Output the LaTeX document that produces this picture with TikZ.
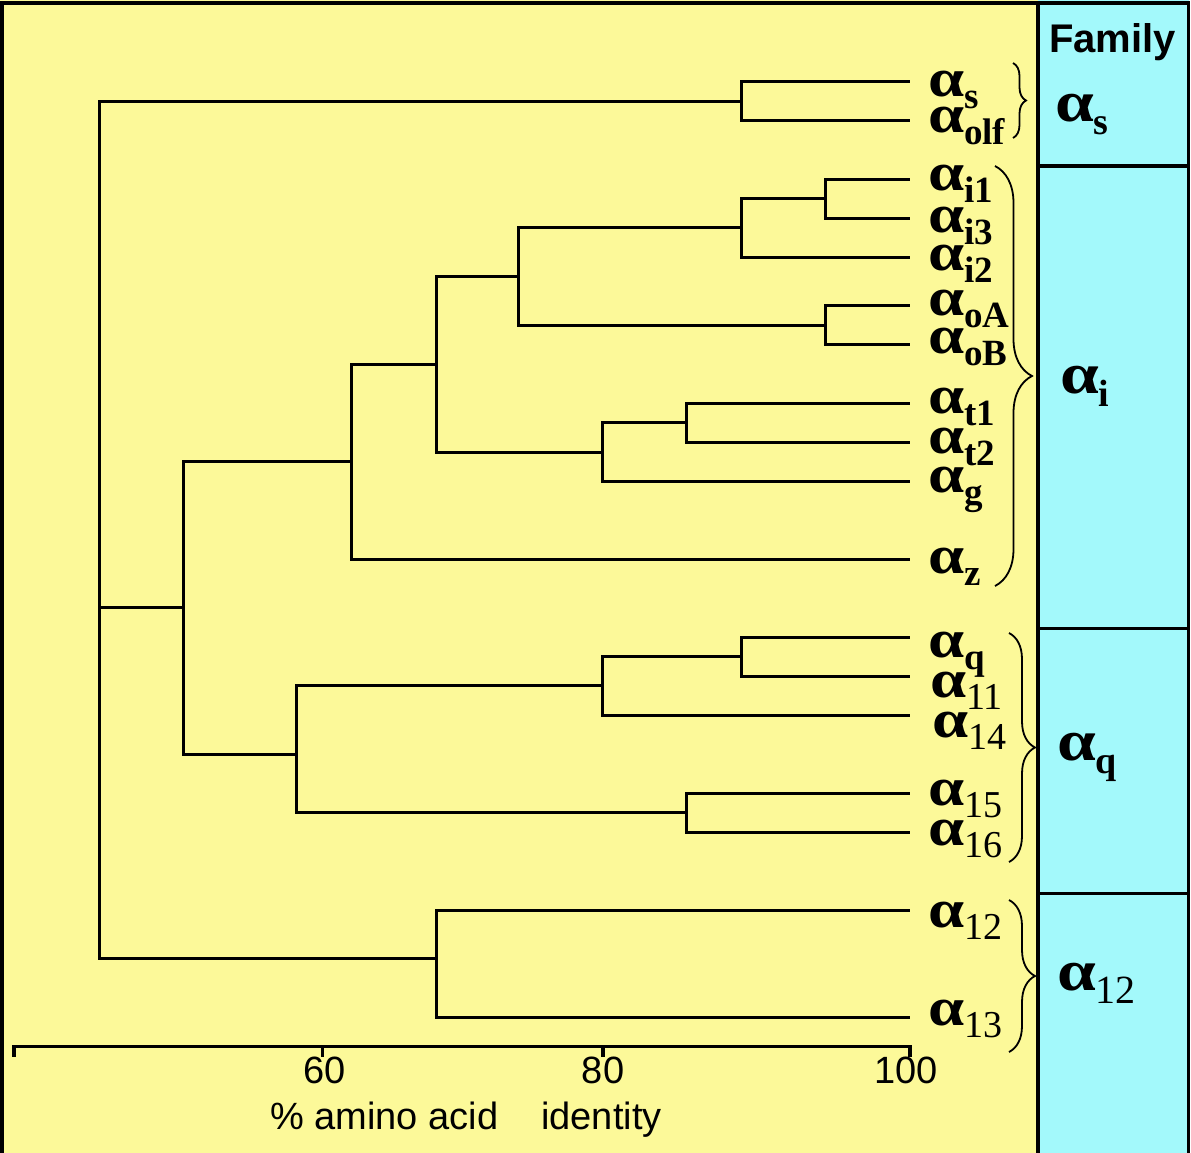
\documentclass[tikz,border=0pt]{standalone}
\usepackage{fontspec}
\setmainfont{Liberation Serif}
\setsansfont{Liberation Sans}
\usetikzlibrary{decorations.pathreplacing}
\definecolor{ybg}{RGB}{252,249,153}
\definecolor{cbg}{RGB}{163,249,251}
\newcommand\galph[1]{\scalebox{1.2}[1]{\fontsize{#1}{#1}\selectfont\bfseries α}}
\newcommand\leafb[1]{\galph{54}\raisebox{-12pt}{\fontsize{37}{37}\selectfont\bfseries #1}}
\newcommand\leafr[1]{\galph{54}\raisebox{-12pt}{\fontsize{38}{38}\selectfont #1}}
\newcommand\famb[1]{\galph{58}\raisebox{-13pt}{\fontsize{38}{38}\selectfont\bfseries #1}}
\newcommand\famr[1]{\galph{58}\raisebox{-13pt}{\fontsize{40}{40}\selectfont #1}}
\begin{document}
\begin{tikzpicture}[x=1pt,y=-1pt,
  tree/.style={line width=3pt,line join=miter},
  frame/.style={line width=4pt},
  lab/.style={anchor=base west,inner sep=0pt,outer sep=0pt},
  axlab/.style={anchor=base,inner sep=0pt,font=\sffamily\fontsize{38}{38}\selectfont},
  brc/.style={decorate,decoration={brace,amplitude=#1},line width=1.8pt}]
\useasboundingbox (0,0) rectangle (1191,1153);
\fill[white] (0,0) rectangle (1191,1153);
\fill[ybg] (0,0) rectangle (1038,1153);
\fill[cbg] (1038,0) rectangle (1189,1153);
% frame
\draw[frame] (2,1153) -- (2,2.7) -- (1189,2.7);
\draw[line width=3pt] (1188.5,1) -- (1188.5,1153);
\draw[frame] (1038,1) -- (1038,1153);
\draw[line width=3.5pt] (1038,166) -- (1189,166);
\draw[line width=3.5pt] (1038,628.5) -- (1189,628.5);
\draw[line width=3.5pt] (1038,893.3) -- (1189,893.3);
% leaves
\coordinate (s) at (910,82);
\coordinate (olf) at (910,120.5);
\coordinate (i1) at (910,179);
\coordinate (i3) at (910,218);
\coordinate (i2) at (910,257);
\coordinate (oA) at (910,305.5);
\coordinate (oB) at (910,344.5);
\coordinate (t1) at (910,403);
\coordinate (t2) at (910,442);
\coordinate (g) at (910,481.5);
\coordinate (z) at (910,559.3);
\coordinate (q) at (910,637.5);
\coordinate (l11) at (910,676);
\coordinate (l14) at (910,715);
\coordinate (l15) at (910,793.3);
\coordinate (l16) at (910,832.3);
\coordinate (l12) at (910,910);
\coordinate (l13) at (910,1017.7);
% internal nodes
\coordinate (A) at (741,101.5);
\coordinate (B) at (825,198.5);
\coordinate (C) at (741,227.5);
\coordinate (D) at (825,325);
\coordinate (E) at (518,276.5);
\coordinate (F) at (686,422.5);
\coordinate (G) at (602,452);
\coordinate (H) at (436,364);
\coordinate (I) at (351,461.7);
\coordinate (J) at (741,656.7);
\coordinate (K) at (602,685.7);
\coordinate (L) at (686,812.8);
\coordinate (M) at (296,754);
\coordinate (N) at (183,607);
\coordinate (O) at (436,958);
\coordinate (R) at (99,607);
\draw[tree] (A) |- (s); \draw[tree] (A) |- (olf);
\draw[tree] (B) |- (i1); \draw[tree] (B) |- (i3);
\draw[tree] (C) |- (B); \draw[tree] (C) |- (i2);
\draw[tree] (D) |- (oA); \draw[tree] (D) |- (oB);
\draw[tree] (E) |- (C); \draw[tree] (E) |- (D);
\draw[tree] (F) |- (t1); \draw[tree] (F) |- (t2);
\draw[tree] (G) |- (F); \draw[tree] (G) |- (g);
\draw[tree] (H) |- (E); \draw[tree] (H) |- (G);
\draw[tree] (I) |- (H); \draw[tree] (I) |- (z);
\draw[tree] (J) |- (q); \draw[tree] (J) |- (l11);
\draw[tree] (K) |- (J); \draw[tree] (K) |- (l14);
\draw[tree] (L) |- (l15); \draw[tree] (L) |- (l16);
\draw[tree] (M) |- (K); \draw[tree] (M) |- (L);
\draw[tree] (N) |- (I); \draw[tree] (N) |- (M);
\draw[tree] (O) |- (l12); \draw[tree] (O) |- (l13);
\draw[tree] (R) |- (A); \draw[tree] (R) -- (N); \draw[tree] (R) |- (O);
% axis
\coordinate (ax0) at (14,1046.7);
\coordinate (ax60) at (322.5,1046.7);
\coordinate (ax80) at (603,1046.7);
\coordinate (ax100) at (910,1046.7);
\draw[line width=3.5pt,line join=miter] ([yshift=-10pt]ax0) -- (ax0) -- (ax100) -- ([yshift=-10pt]ax100);
\draw[line width=3.5pt] (ax60) -- ([yshift=-10pt]ax60);
\draw[line width=3.5pt] (ax80) -- ([yshift=-10pt]ax80);
\node[axlab] (t60) at (325,1083) {60};
\node[axlab] (t80) at (603,1083) {80};
\node[axlab] (t100) at (906,1083) {100};
\node[axlab,anchor=base west] (xt1) at (270,1129) {\% amino acid};
\node[axlab,anchor=base west] (xt2) at (541,1129) {identity};
% leaf labels
\node[lab] (ls) at (928,97) {\leafb{s}};
\node[lab] (lolf) at (928,133) {\leafb{olf}};
\node[lab] (li1) at (928,190) {\leafb{i1}};
\node[lab] (li3) at (928,232) {\leafb{i3}};
\node[lab] (li2) at (928,270) {\leafb{i2}};
\node[lab] (loA) at (928,315) {\leafb{oA}};
\node[lab] (loB) at (928,353) {\leafb{oB}};
\node[lab] (lt1) at (928,413) {\leafb{t1}};
\node[lab] (lt2) at (928,453) {\leafb{t2}};
\node[lab] (lg) at (928,492) {\leafb{g}};
\node[lab] (lz) at (928,573) {\leafb{z}};
\node[lab] (lq) at (928,657) {\leafb{q}};
\node[lab] (ll11) at (930,697) {\leafr{11}};
\node[lab] (ll14) at (932,737) {\leafr{14}};
\node[lab] (ll15) at (928,805) {\leafr{15}};
\node[lab] (ll16) at (928,845) {\leafr{16}};
\node[lab] (ll12) at (928,927) {\leafr{12}};
\node[lab] (ll13) at (928,1025) {\leafr{13}};
% braces
\draw[brc=13] (1013,63) -- (1013,138);
\draw[brc=37] (995,166) -- (995,586);
\draw[brc=26] (1009,633) -- (1009,862);
\draw[brc=26] (1009,900) -- (1009,1052);
% family column
\node[lab,font=\sffamily\bfseries\fontsize{40}{40}\selectfont] (fam) at (1049,53) {Family};
\node[lab] (fs) at (1055,121.5) {\famb{s}};
\node[lab] (fi) at (1060,393) {\famb{i}};
\node[lab] (fq) at (1057,760) {\famb{q}};
\node[lab] (f12) at (1057,990) {\famr{12}};
\end{tikzpicture}
\end{document}
